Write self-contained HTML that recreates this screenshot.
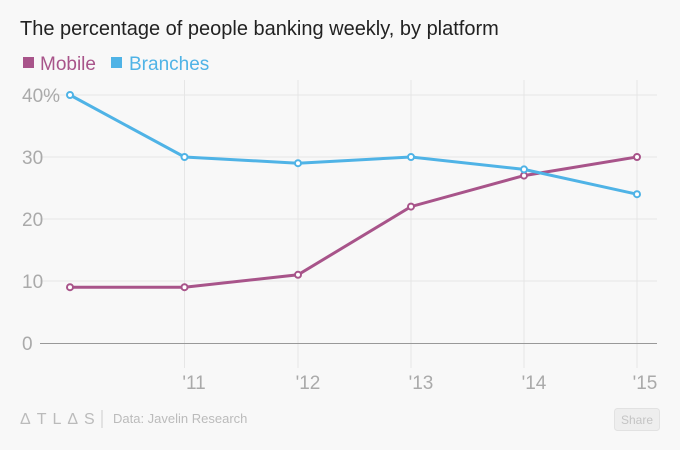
<!DOCTYPE html><html><head><style>
body{margin:0;background:#f8f8f8;width:680px;height:445px;overflow:hidden;font-family:"Liberation Sans",sans-serif;}
</style></head><body>
<svg width="680" height="445" xmlns="http://www.w3.org/2000/svg" font-family="Liberation Sans, sans-serif">
<rect width="680" height="445" fill="#f8f8f8"/>
<text x="20" y="35" font-size="20" fill="#222">The percentage of people banking weekly, by platform</text>
<rect x="23" y="57" width="11" height="11" fill="#a8548a"/>
<text x="40" y="70" font-size="19" fill="#a8548a">Mobile</text>
<rect x="111" y="57" width="11" height="11" fill="#4fb3e6"/>
<text x="129" y="70" font-size="19" fill="#4fb3e6">Branches</text>
<g stroke="#e6e6e6" stroke-width="1">
<line x1="40" y1="95" x2="657" y2="95"/><line x1="40" y1="157" x2="657" y2="157"/>
<line x1="40" y1="219" x2="657" y2="219"/><line x1="40" y1="281" x2="657" y2="281"/>
<line x1="184.5" y1="80" x2="184.5" y2="368"/><line x1="298" y1="80" x2="298" y2="368"/>
<line x1="411" y1="80" x2="411" y2="368"/><line x1="524" y1="80" x2="524" y2="368"/>
<line x1="637" y1="80" x2="637" y2="368"/>
</g>
<line x1="40" y1="343.5" x2="657" y2="343.5" stroke="#999" stroke-width="1"/>
<g font-size="19" fill="#aaa">
<text x="22" y="102">40%</text><text x="22" y="164">30</text><text x="22" y="226">20</text><text x="22" y="288">10</text><text x="22" y="350">0</text>
<g text-anchor="middle"><text x="194" y="389">'11</text><text x="308" y="389">'12</text><text x="421" y="389">'13</text><text x="534" y="389">'14</text><text x="645" y="389">'15</text></g>
</g>
<polyline fill="none" stroke="#a8548a" stroke-width="3" points="70,287.2 184.5,287.2 298,274.8 411,206.6 524,175.6 637,157"/>
<polyline fill="none" stroke="#4fb3e6" stroke-width="3" points="70,95 184.5,157 298,163.2 411,157 524,169.4 637,194.2"/>
<g fill="#fff" stroke="#a8548a" stroke-width="2">
<circle cx="70" cy="287.2" r="3"/><circle cx="184.5" cy="287.2" r="3"/><circle cx="298" cy="274.8" r="3"/><circle cx="411" cy="206.6" r="3"/><circle cx="524" cy="175.6" r="3"/><circle cx="637" cy="157" r="3"/>
</g>
<g fill="#fff" stroke="#4fb3e6" stroke-width="2">
<circle cx="70" cy="95" r="3"/><circle cx="184.5" cy="157" r="3"/><circle cx="298" cy="163.2" r="3"/><circle cx="411" cy="157" r="3"/><circle cx="524" cy="169.4" r="3"/><circle cx="637" cy="194.2" r="3"/>
</g>
<text x="20" y="424" font-size="16" fill="#bbb" letter-spacing="6">ΔTLΔS</text>
<line x1="102" y1="410" x2="102" y2="428" stroke="#ccc"/>
<text x="113" y="423" font-size="13" fill="#bbb">Data: Javelin Research</text>
<rect x="614.5" y="408.5" width="45" height="22" rx="3" fill="#eee" stroke="#e2e2e2"/>
<text x="637" y="424" font-size="12" fill="#c4c4c4" text-anchor="middle">Share</text>
</svg>
</body></html>
